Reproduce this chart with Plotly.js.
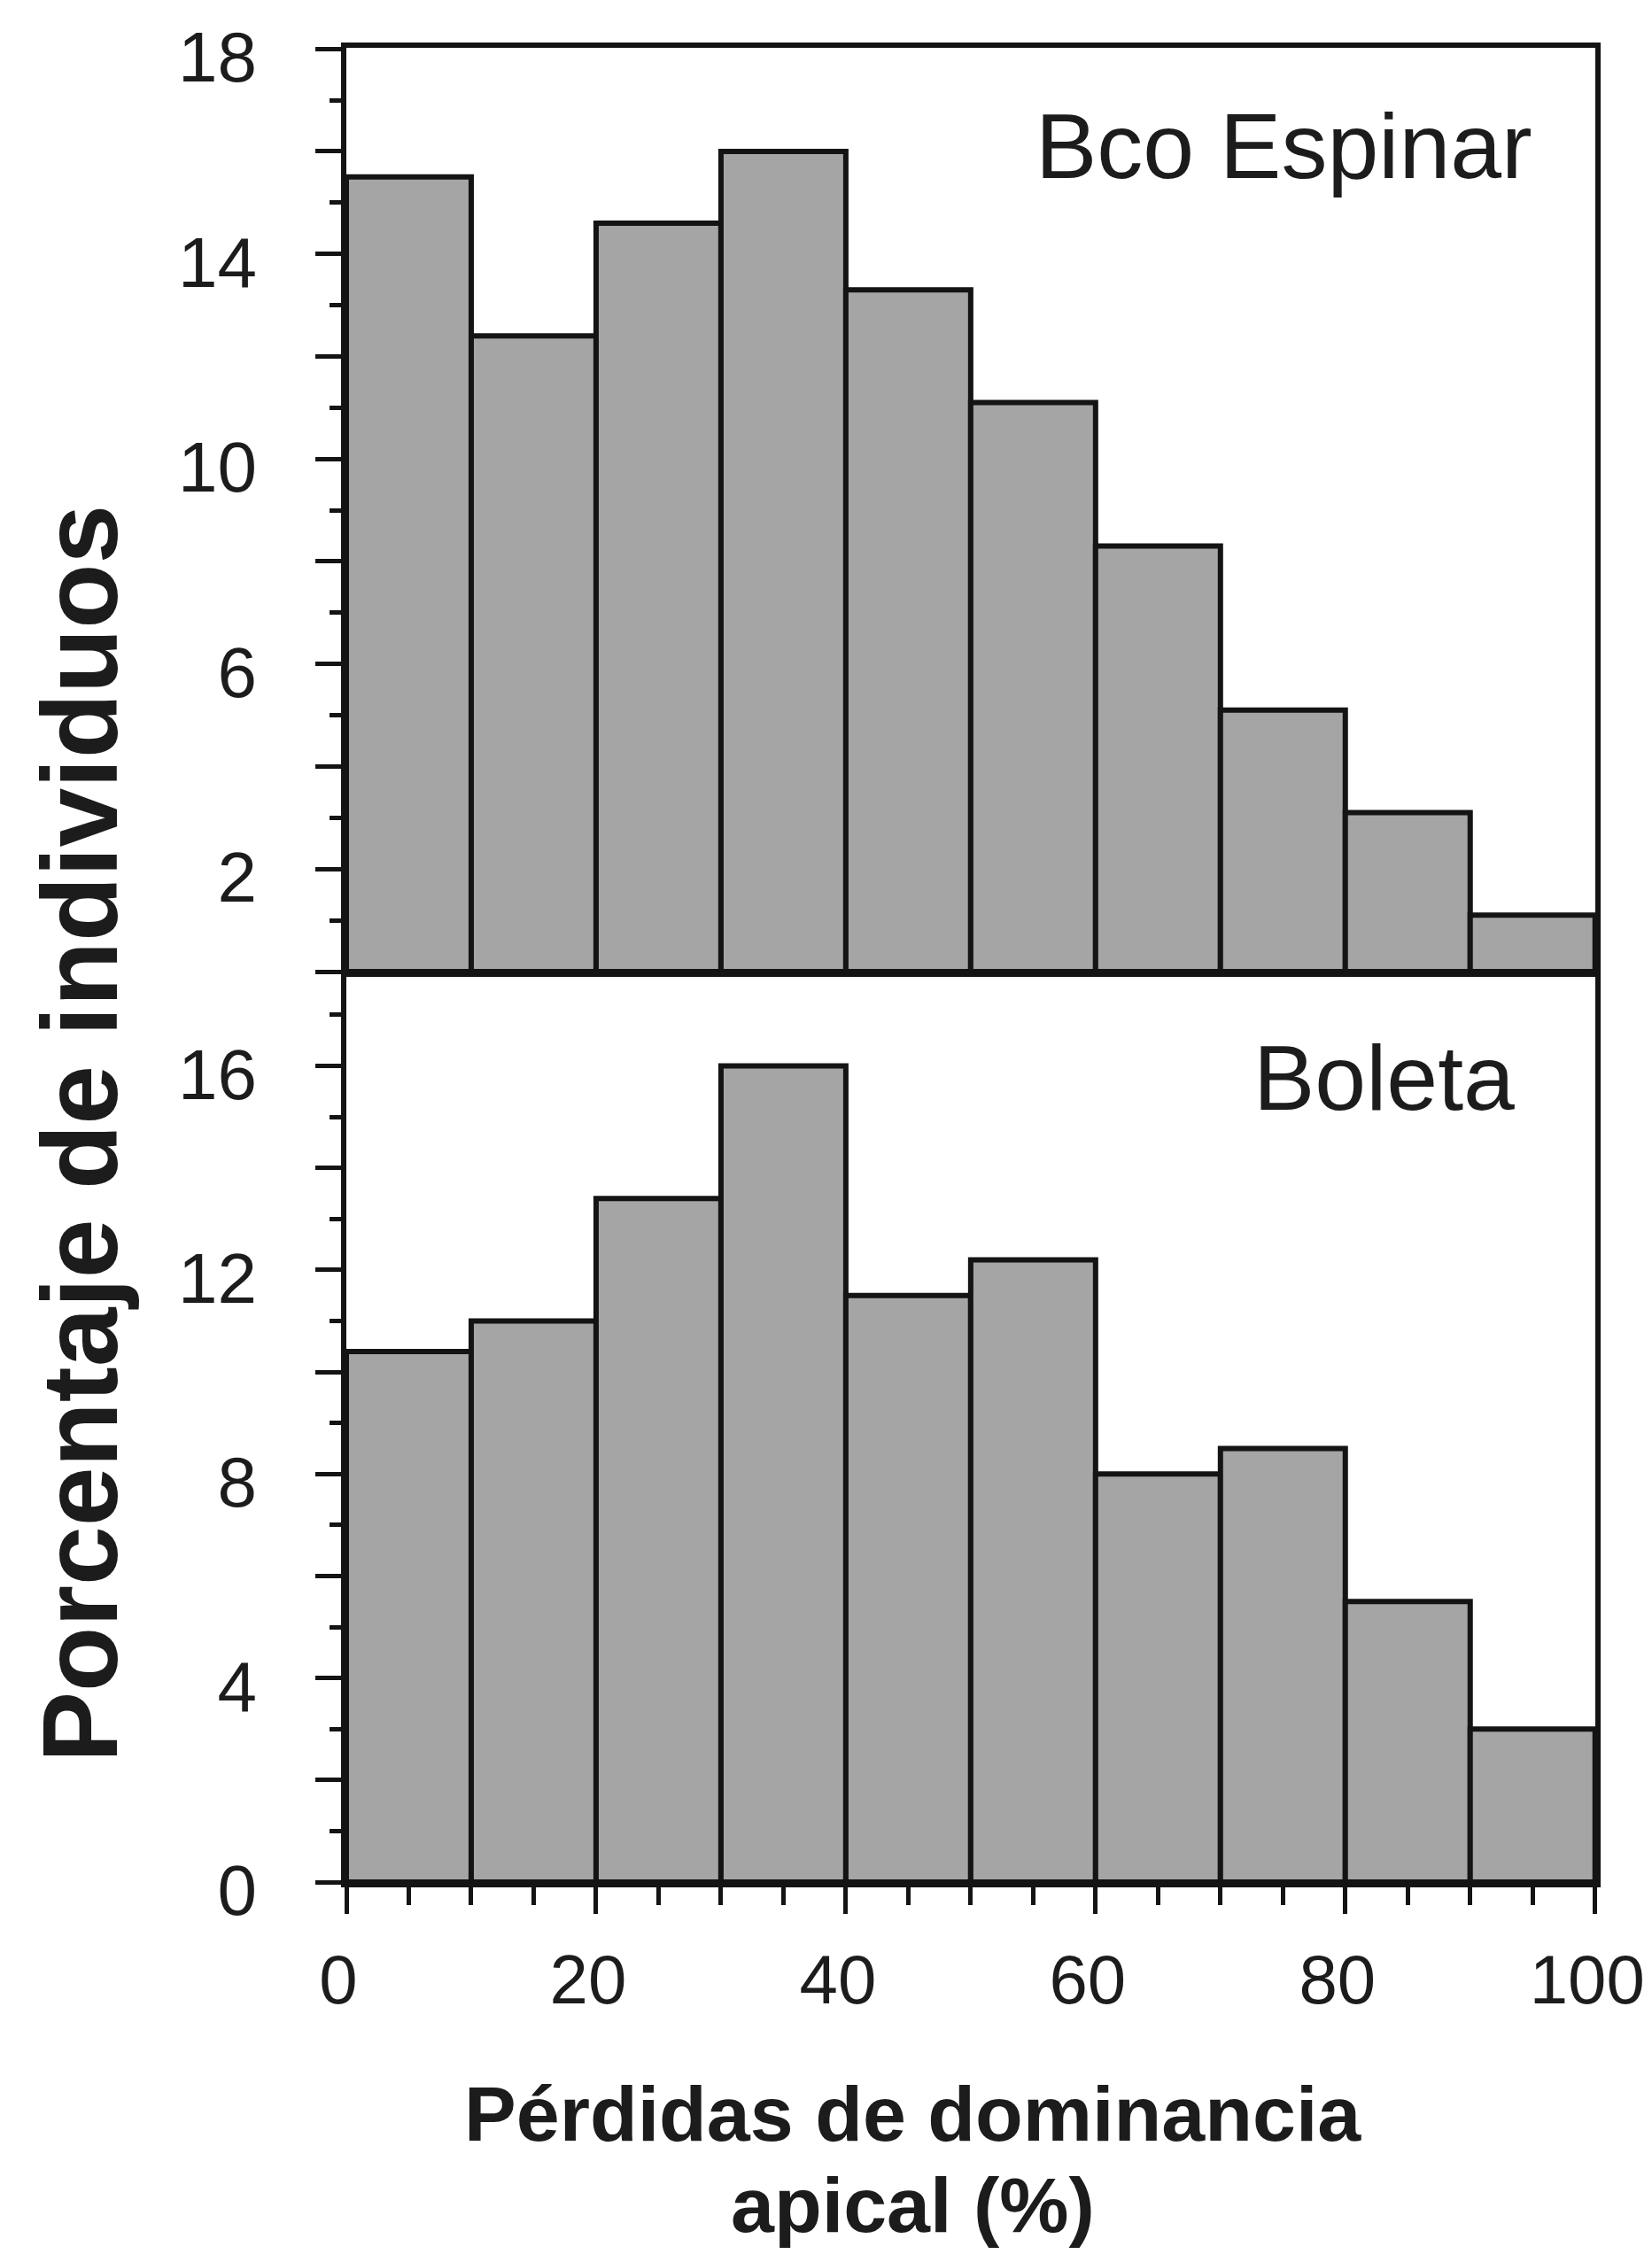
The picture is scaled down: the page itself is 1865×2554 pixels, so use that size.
<!DOCTYPE html>
<html>
<head>
<meta charset="utf-8">
<script src="https://cdn.plot.ly/plotly-3.0.1.min.js"></script>
<style>
  html, body { margin: 0; padding: 0; background: #ffffff; }
  #chart { width: 1865px; height: 2554px; }
</style>
</head>
<body>
<div id="chart"></div>
<script>
// Histogram bins: left edge of each 10 % class of apical-dominance loss
const binLeft = [0, 10, 20, 30, 40, 50, 60, 70, 80, 90];
const binWidth = 10;

// Percentage of individuals per class
const espinarPct = [15.5, 12.4, 14.6, 16.0, 13.3, 11.1, 8.3, 5.1, 3.1, 1.1];
const boletaPct  = [10.4, 11.0, 13.4, 16.0, 11.5, 12.2, 8.0, 8.5, 5.5, 3.0];

// Axis ticks and labels
const xTickVals = [0, 20, 40, 60, 80, 100];
const xTickText = ['0', '20', '40', '60', '80', '100'];
const topTickVals = [0, 2, 4, 6, 8, 10, 12, 14, 16, 18];
const topTickText = ['', '2', '', '6', '', '10', '', '14', '', '18'];
const botTickVals = [0, 2, 4, 6, 8, 10, 12, 14, 16];
const botTickText = ['0', '', '4', '', '8', '', '12', '', '16'];

const siteTop = 'Bco Espinar';
const siteBottom = 'Boleta';
const yTitle = 'Porcentaje de individuos';
const xTitleLine1 = 'Pérdidas de dominancia';
const xTitleLine2 = 'apical (%)';

const INK = '#141414';
const FILL = '#a5a5a5';
const FONT = 'Liberation Sans, Arial, Helvetica, sans-serif';

const W = 1865, H = 2554;
const px = v => v / W;           // horizontal pixel -> paper
const py = v => 1 - v / H;       // vertical pixel (from top) -> paper

const xDomain = [px(391), px(1801)];
const topDomain = [py(1097), py(54)];
const botDomain = [py(2125), py(1097)];

function barTrace(values, xa, ya) {
  return {
    type: 'bar',
    x: binLeft,
    y: values,
    width: binWidth,
    offset: 0,
    xaxis: xa,
    yaxis: ya,
    marker: { color: FILL, line: { color: INK, width: 6 } },
    hoverinfo: 'x+y',
    showlegend: false
  };
}

const yTickFont = { family: FONT, size: 80, color: '#1c1c1c' };
const xTickFont = { family: FONT, size: 78, color: '#1c1c1c' };

function yAxis(domain, range, vals, text, anchor) {
  return {
    domain: domain,
    range: range,
    anchor: anchor,
    tickmode: 'array',
    tickvals: vals,
    ticktext: text,
    ticks: 'outside',
    ticklen: 29,
    tickwidth: 5,
    tickcolor: INK,
    minor: { dtick: 1, tick0: 0, ticks: 'outside', ticklen: 13, tickwidth: 5, tickcolor: INK, showgrid: false },
    tickfont: yTickFont,
    ticklabelstandoff: 50,
    ticklabelshift: 9,
    ticklabeloverflow: 'allow',
    showline: true,
    linewidth: 6,
    linecolor: INK,
    mirror: true,
    showgrid: false,
    zeroline: false,
    fixedrange: true
  };
}

const data = [
  barTrace(boletaPct, 'x', 'y'),
  barTrace(espinarPct, 'x2', 'y2')
];

const layout = {
  width: W,
  height: H,
  margin: { l: 0, r: 0, t: 0, b: 0 },
  paper_bgcolor: '#ffffff',
  plot_bgcolor: '#ffffff',
  bargap: 0,
  showlegend: false,
  xaxis: {
    domain: xDomain,
    range: [0, 100.02],
    anchor: 'y',
    tickmode: 'array',
    tickvals: xTickVals,
    ticktext: xTickText,
    ticks: 'outside',
    ticklen: 30,
    tickwidth: 5,
    tickcolor: INK,
    minor: { dtick: 5, tick0: 0, ticks: 'outside', ticklen: 20, tickwidth: 5, tickcolor: INK, showgrid: false },
    tickfont: xTickFont,
    ticklabelstandoff: 7,
    ticklabelshift: -9,
    ticklabeloverflow: 'allow',
    showline: true,
    linewidth: 6,
    linecolor: INK,
    mirror: true,
    showgrid: false,
    zeroline: false,
    fixedrange: true
  },
  xaxis2: {
    domain: xDomain,
    range: [0, 100.02],
    anchor: 'y2',
    showticklabels: false,
    ticks: '',
    showline: true,
    linewidth: 6,
    linecolor: INK,
    mirror: true,
    showgrid: false,
    zeroline: false,
    fixedrange: true
  },
  yaxis: yAxis(botDomain, [0, 17.85], botTickVals, botTickText, 'x'),
  yaxis2: yAxis(topDomain, [0, 18.02], topTickVals, topTickText, 'x2'),
  annotations: [
    {
      text: siteTop, xref: 'paper', yref: 'paper',
      x: px(1732), y: py(165), xanchor: 'right', yanchor: 'middle',
      showarrow: false, font: { family: FONT, size: 104, color: '#1c1c1c' }
    },
    {
      text: siteBottom, xref: 'paper', yref: 'paper',
      x: px(1712), y: py(1217), xanchor: 'right', yanchor: 'middle',
      showarrow: false, font: { family: FONT, size: 104, color: '#1c1c1c' }
    },
    {
      text: '<b>' + yTitle + '</b>', xref: 'paper', yref: 'paper',
      x: px(90), y: py(1280), xanchor: 'center', yanchor: 'middle',
      textangle: -90, showarrow: false,
      font: { family: FONT, size: 120, color: '#1c1c1c' }
    },
    {
      text: '<b>' + xTitleLine1 + '</b>', xref: 'paper', yref: 'paper',
      x: px(1030), y: py(2386), xanchor: 'center', yanchor: 'middle',
      showarrow: false, font: { family: FONT, size: 88, color: '#1c1c1c' }
    },
    {
      text: '<b>' + xTitleLine2 + '</b>', xref: 'paper', yref: 'paper',
      x: px(1030), y: py(2489), xanchor: 'center', yanchor: 'middle',
      showarrow: false, font: { family: FONT, size: 88, color: '#1c1c1c' }
    }
  ]
};

Plotly.newPlot('chart', data, layout, { displayModeBar: false, staticPlot: true });
</script>
</body>
</html>
